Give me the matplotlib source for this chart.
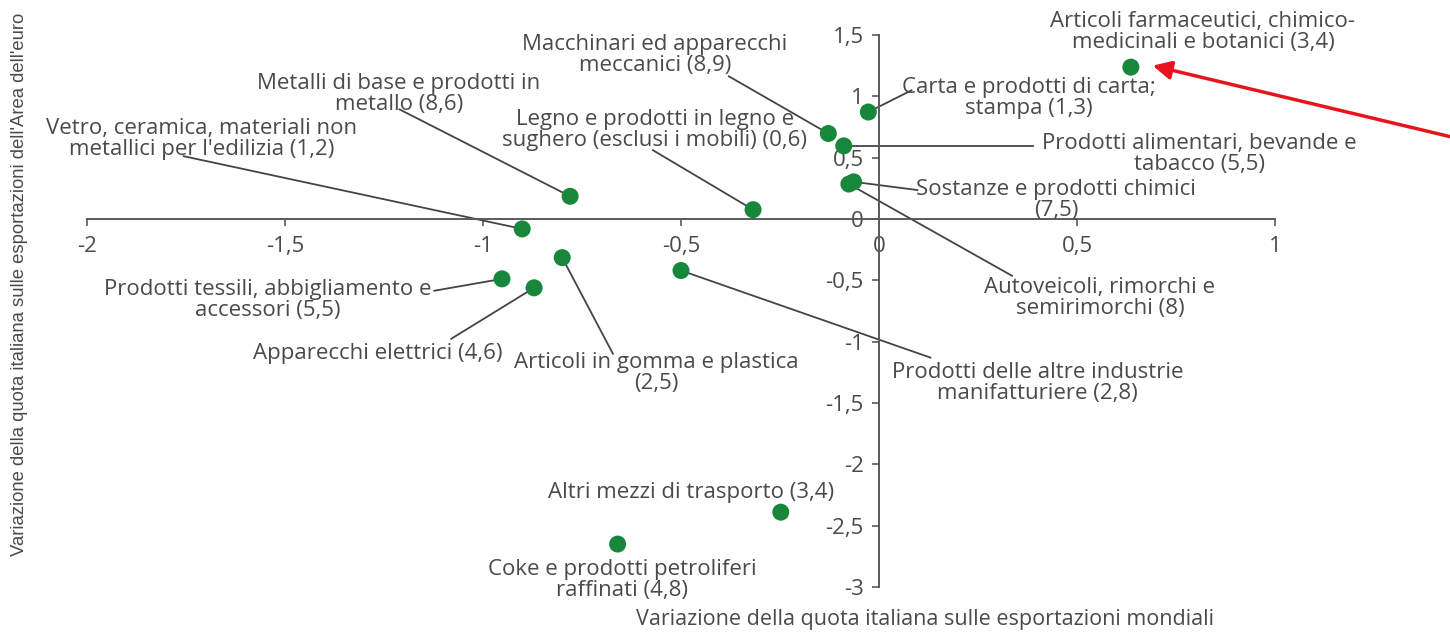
import matplotlib
matplotlib.use('Agg')
import matplotlib.pyplot as plt
import numpy as np
from matplotlib.ticker import FuncFormatter

plt.rcParams['font.family'] = ['Open Sans', 'DejaVu Sans']

# settori (peso in parentesi)
settori = [
    'Articoli farmaceutici, chimico-\nmedicinali e botanici (3,4)',
    'Macchinari ed apparecchi\nmeccanici (8,9)',
    'Metalli di base e prodotti in\nmetallo (8,6)',
    'Vetro, ceramica, materiali non\nmetallici per l\'edilizia (1,2)',
    'Legno e prodotti in legno e\nsughero (esclusi i mobili) (0,6)',
    'Carta e prodotti di carta;\nstampa (1,3)',
    'Prodotti alimentari, bevande e\ntabacco (5,5)',
    'Sostanze e prodotti chimici\n(7,5)',
    'Autoveicoli, rimorchi e\nsemirimorchi (8)',
    'Prodotti tessili, abbigliamento e\naccessori (5,5)',
    'Apparecchi elettrici (4,6)',
    'Articoli in gomma e plastica\n(2,5)',
    'Prodotti delle altre industrie\nmanifatturiere (2,8)',
    'Altri mezzi di trasporto (3,4)',
    'Coke e prodotti petroliferi\nraffinati (4,8)',
]
# variazione quota sulle esportazioni mondiali
var_mondo = [0.636, -0.128, -0.780, -0.901, -0.318, -0.027, -0.089, -0.064,
             -0.076, -0.952, -0.871, -0.800, -0.500, -0.248, -0.660]
# variazione quota sulle esportazioni dell'area dell'euro
var_euro = [1.238, 0.697, 0.185, -0.081, 0.076, 0.872, 0.596, 0.303,
            0.285, -0.488, -0.561, -0.315, -0.420, -2.39, -2.65]

# posizione etichette (centro) e inizio della linea guida
pos_etich = [(0.818, 1.528), (-0.566, 1.341), (-1.212, 1.016), (-1.711, 0.650),
             (-0.566, 0.724), (0.379, 0.984), (0.810, 0.528), (0.447, 0.154),
             (0.558, -0.642), (-1.544, -0.659), (-1.267, -1.098), (-0.563, -1.252),
             (0.400, -1.333), (-0.475, -2.228), (-0.649, -2.943)]
guida = [None, (-0.379, 1.163), (-1.211, 0.894), (-1.756, 0.512),
         (-0.571, 0.561), (0.082, 1.049), (0.389, 0.596), (0.097, 0.236),
         (0.336, -0.463), (-1.123, -0.585), (-1.080, -0.976), (-0.672, -1.098),
         (0.130, -1.130), None, None]

grigio = '#4a4a4a'
asse = '#5a5a5a'

fig = plt.figure(figsize=(14.5, 6.33), dpi=100)
ax = fig.add_axes([87/1450, 1-587/633, (1275-87)/1450, (587-35)/633])

ax.set_xlim(-2, 1)
ax.set_ylim(-3, 1.5)
for s in ['top', 'right']:
    ax.spines[s].set_visible(False)
ax.spines['left'].set_position(('data', 0))
ax.spines['bottom'].set_position(('data', 0))
for s in ['left', 'bottom']:
    ax.spines[s].set_color(asse)
    ax.spines[s].set_linewidth(1.4)
ax.patch.set_alpha(0)

ax.set_xticks(np.arange(-2, 1.01, 0.5))
ax.set_yticks(np.arange(-3, 1.51, 0.5))
fmt = FuncFormatter(lambda v, p: ('%g' % v).replace('.', ','))
ax.xaxis.set_major_formatter(fmt)
ax.yaxis.set_major_formatter(fmt)
ax.tick_params(axis='both', direction='out', length=5, width=1.2, color=asse,
               labelsize=16, labelcolor=grigio)
ax.tick_params(axis='x', pad=7)
ax.tick_params(axis='y', pad=6)

for i in range(len(settori)):
    if guida[i] is not None:
        ax.plot([guida[i][0], var_mondo[i]], [guida[i][1], var_euro[i]],
                color='#444444', lw=1.3, zorder=2, clip_on=False)
    ax.text(pos_etich[i][0], pos_etich[i][1], settori[i], ha='center', va='center',
            multialignment='center', fontsize=16, color=grigio, linespacing=1.0,
            zorder=4, clip_on=False)

ax.scatter(var_mondo, var_euro, s=150, color='#17873b', edgecolors='none',
           zorder=3, clip_on=False)

fig.text(925/1450, 1-620/633, 'Variazione della quota italiana sulle esportazioni mondiali',
         ha='center', va='center', fontsize=15.5, color=grigio)
fig.text(20/1450, 1-284/633,
         "Variazione della quota italiana sulle esportazioni dell'Area dell'euro",
         ha='center', va='center', rotation=90, fontsize=13.3, color=grigio,
         family=['Liberation Sans', 'DejaVu Sans'])

# freccia rossa
fig.add_artist(matplotlib.patches.FancyArrowPatch(
    (1460/1450, 1-139/633), (1150/1450, 1-65/633), transform=fig.transFigure,
    arrowstyle='-|>', mutation_scale=28, color='#e8141b', lw=2.5))

fig.savefig('out.png', dpi=100)
